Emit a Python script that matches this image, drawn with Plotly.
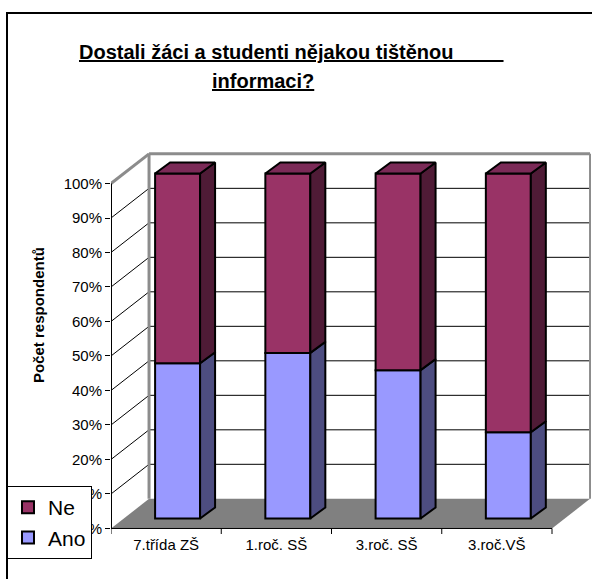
import plotly.graph_objects as go

# ---------------- data ----------------
categories = ["7.třída ZŠ", "1.roč. SŠ", "3.roč. SŠ", "3.roč.VŠ"]
ano = [45, 48, 43, 25]
ne = [55, 52, 57, 75]
y_ticks = list(range(0, 101, 10))
y_tick_labels = [f"{v}%" for v in y_ticks]

# ---------------- pseudo-3D geometry (data units) ----------------
WALL_DX, WALL_DY = 0.345, 8.6     # depth of the back wall
BAR_FX, BAR_FY = 0.104, 2.9       # position of the bar front plane
BAR_DX, BAR_DY = 0.136, 3.2       # depth of a bar
BAR_W = 0.408
X0, X1 = -0.5, len(categories) - 0.5

C_NE, C_NE_SIDE, C_NE_TOP = "#993366", "#4f1b36", "#7b2a57"
C_ANO, C_ANO_SIDE = "#9999ff", "#4d4d80"
WALL = "#8c8c8c"
FONT = "Liberation Sans, Arial, sans-serif"

fig = go.Figure()
shapes = []


def seg(xa, ya, xb, yb, color="black", width=1, layer="below"):
    shapes.append(dict(type="line", xref="x", yref="y", x0=xa, y0=ya, x1=xb, y1=yb,
                       line=dict(color=color, width=width), layer=layer))


# floor
shapes.append(dict(type="path", xref="x", yref="y", layer="below",
                   path=f"M{X0},0 L{X1},0 L{X1 + WALL_DX},{WALL_DY} L{X0 + WALL_DX},{WALL_DY} Z",
                   fillcolor="#808080", line=dict(width=0)))
# gridlines on side wall and back wall
for v in y_ticks[1:-1]:
    seg(X0, v, X0 + WALL_DX, v + WALL_DY)
    seg(X0 + WALL_DX, v + WALL_DY, X1 + WALL_DX, v + WALL_DY)
# wall edges
seg(X0, 100, X0 + WALL_DX, 100 + WALL_DY, WALL, 3)
seg(X0 + WALL_DX, 100 + WALL_DY, X1 + WALL_DX, 100 + WALL_DY, WALL, 3)
seg(X0 + WALL_DX, WALL_DY, X0 + WALL_DX, 100 + WALL_DY, WALL, 3)
seg(X1 + WALL_DX, WALL_DY, X1 + WALL_DX, 100 + WALL_DY, WALL, 2)
# front axes
seg(X0, 0, X0, 100, "black", 2)
seg(X0, 0, X1, 0, "black", 1)
for i in range(len(categories) + 1):
    seg(X0 + i, 0, X0 + i, -1.6, "black", 1)

# ---------------- bars: front faces ----------------
xs = [i + BAR_FX for i in range(len(categories))]
base_ano = [BAR_FY] * len(categories)
base_ne = [BAR_FY + a for a in ano]
fig.add_trace(go.Bar(x=xs, y=ano, base=base_ano, width=BAR_W, name="Ano",
                     marker=dict(color=C_ANO, line=dict(color="black", width=2)),
                     showlegend=False))
fig.add_trace(go.Bar(x=xs, y=ne, base=base_ne, width=BAR_W, name="Ne",
                     marker=dict(color=C_NE, line=dict(color="black", width=2)),
                     showlegend=False))


# ---------------- bars: side and top faces ----------------
def poly_trace(px, py, fill):
    fig.add_trace(go.Scatter(x=px, y=py, mode="lines", fill="toself", fillcolor=fill,
                             line=dict(color="black", width=2), hoverinfo="skip",
                             showlegend=False))


for vals, bases, side in ((ano, base_ano, C_ANO_SIDE), (ne, base_ne, C_NE_SIDE)):
    px, py = [], []
    for x, v, b in zip(xs, vals, bases):
        r = x + BAR_W / 2
        px += [r, r + BAR_DX, r + BAR_DX, r, r, None]
        py += [b, b + BAR_DY, b + v + BAR_DY, b + v, b, None]
    poly_trace(px, py, side)

px, py = [], []
for x, a, n in zip(xs, ano, ne):
    l, r = x - BAR_W / 2, x + BAR_W / 2
    t = BAR_FY + a + n
    px += [l, r, r + BAR_DX, l + BAR_DX, l, None]
    py += [t, t, t + BAR_DY, t + BAR_DY, t, None]
poly_trace(px, py, C_NE_TOP)

# legend entries (square swatches with black border, as in the original)
for name, color, rank in (("Ne", C_NE, 1), ("Ano", C_ANO, 2)):
    fig.add_trace(go.Scatter(x=[None], y=[None], mode="markers", name=name,
                             marker=dict(symbol="square", size=12, color=color,
                                         line=dict(color="black", width=2)),
                             legendrank=rank, legendgroup=name, showlegend=True))

# ---------------- layout ----------------
W, H = 592, 579
ML, MR, MT, MB = 111, 1, 149, 45
pw, ph = W - ML - MR, H - MT - MB


def pxx(p):
    return (p - ML) / pw


def pxy(p):
    return (H - MB - p) / ph


# outer chart border
shapes.append(dict(type="rect", xref="paper", yref="paper", x0=pxx(7), x1=pxx(640),
                   y0=pxy(640), y1=pxy(13), line=dict(color="black", width=2),
                   layer="below"))

annotations = [
    dict(text="<u><b>Dostali žáci a studenti nějakou tištěnou" + "&nbsp;" * 9 + "</b></u>",
         x=pxx(77), y=pxy(52), xref="paper", yref="paper", xanchor="left", yanchor="middle",
         showarrow=False, font=dict(family=FONT, size=20, color="black")),
    dict(text="<u><b>informaci?</b></u>",
         x=pxx(263), y=pxy(81), xref="paper", yref="paper", xanchor="center", yanchor="middle",
         showarrow=False, font=dict(family=FONT, size=20, color="black")),
    dict(text="<b>Počet respondentů</b>", textangle=-90,
         x=pxx(38), y=pxy(315), xref="paper", yref="paper", xanchor="center", yanchor="middle",
         showarrow=False, font=dict(family=FONT, size=15, color="black")),
]

fig.update_layout(
    width=W, height=H, autosize=False,
    margin=dict(l=ML, r=MR, t=MT, b=MB, pad=0),
    paper_bgcolor="white", plot_bgcolor="white",
    barmode="overlay",
    shapes=shapes, annotations=annotations,
    showlegend=True,
    legend=dict(x=pxx(7), y=pxy(486), xanchor="left", yanchor="top",
                bgcolor="white", bordercolor="black", borderwidth=1,
                font=dict(family=FONT, size=21, color="black"),
                traceorder="grouped", tracegroupgap=0, itemwidth=30),
    xaxis=dict(range=[X0, X0 + pw / 110.25], tickvals=list(range(len(categories))),
               ticktext=categories, ticks="", showgrid=False, zeroline=False,
               showline=False, tickfont=dict(family=FONT, size=15, color="black"),
               fixedrange=True),
    yaxis=dict(range=[-1.6, 110], tickvals=y_ticks, ticktext=y_tick_labels,
               ticks="outside", ticklen=5, tickcolor="black", tickwidth=1,
               showgrid=False, zeroline=False, showline=False,
               tickfont=dict(family=FONT, size=15, color="black"), fixedrange=True),
    font=dict(family=FONT, color="black"),
)

fig.write_html("out.html")
